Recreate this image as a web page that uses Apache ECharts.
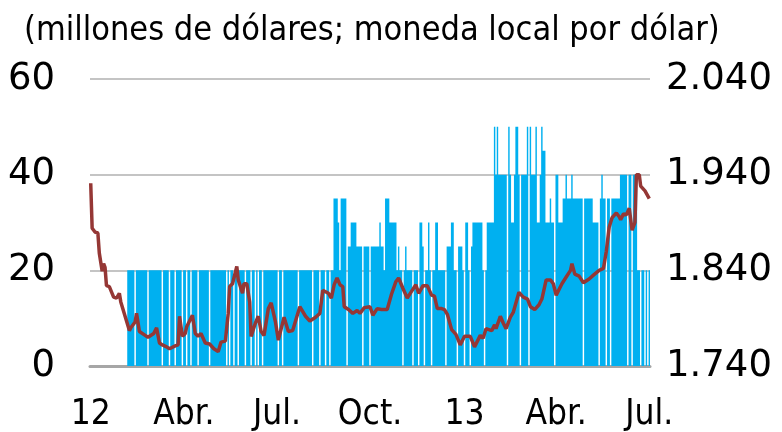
<!DOCTYPE html>
<html>
<head>
<meta charset="utf-8">
<script src="https://cdn.jsdelivr.net/npm/echarts/dist/echarts.min.js"></script>
<style>html,body{margin:0;padding:0;background:#fff}#c{width:782px;height:432px}</style>
</head>
<body>
<div id="c"></div>
<script>
// ---- Data ----
const titleText = '(millones de dólares; moneda local por dólar)';
const firstDay = '2012-01-02';
const lastDay = '2013-07-01';
const quarterNames = { '01': null, '04': 'Abr.', '07': 'Jul.', '10': 'Oct.' };

// Daily purchases (US$ millions), one value per business day from firstDay to lastDay
const purchases = [
  0,0,0,0,0,0,0,0,0,0,
  0,0,0,0,0,0,0,0,0,0,
  0,0,0,0,0,0,20,20,20,20,
  20,0,20,20,20,20,20,20,20,20,
  0,20,20,20,20,20,20,20,20,20,
  0,20,20,20,20,0,20,20,20,0,
  20,20,20,20,0,20,20,0,20,20,
  0,20,20,20,20,0,20,20,20,20,
  20,20,20,0,20,20,20,20,20,20,
  20,20,20,20,20,0,20,0,20,20,
  0,20,20,0,20,20,20,20,0,20,
  20,20,0,20,20,0,20,0,20,20,
  0,20,20,20,20,20,20,20,20,20,
  20,0,20,20,0,20,20,20,20,20,
  20,20,20,20,20,0,20,20,20,20,
  20,20,20,20,20,0,20,20,20,20,
  0,20,20,20,0,20,20,0,20,20,
  35,35,35,30,20,35,35,35,35,0,
  25,25,30,30,30,30,25,25,25,25,
  0,25,25,25,25,0,25,25,25,25,
  25,25,30,25,25,20,35,35,35,30,
  30,30,30,30,20,25,20,20,0,20,
  25,20,20,20,20,0,20,20,20,0,
  30,30,25,0,20,20,30,20,0,20,
  20,30,30,20,20,20,20,20,0,25,
  25,25,30,30,20,20,0,25,25,25,
  20,0,30,30,20,0,25,30,30,30,
  30,30,30,30,20,0,20,30,30,30,
  30,30,50,40,50,40,40,40,40,40,
  40,0,50,40,30,30,40,50,50,40,
  0,40,40,40,40,50,0,50,40,40,
  40,50,30,30,40,50,45,45,30,30,
  30,35,30,30,0,40,40,30,30,30,
  35,35,40,35,35,35,40,35,35,35,
  35,35,35,35,0,35,35,35,35,35,
  35,30,30,30,30,0,35,40,35,35,
  0,35,35,0,35,35,35,35,35,35,
  40,40,40,40,40,0,40,40,0,40,
  40,40,20,20,0,20,20,0,20,0,
  20
];

// Exchange rate readings: [business-day number, local currency per dollar]
const fxReadings = [
  [0,1931],[1,1884],[3,1880],[5,1879],[6,1858],[8,1839],[9,1847],[10,1843],[11,1824],[13,1823],
  [16,1812],[18,1811],[20,1816],[21,1807],[24,1792],[27,1777],[28,1780],[31,1786],[32,1795],[34,1776],
  [35,1775],[38,1772],[40,1770],[41,1769],[44,1774],[46,1780],[48,1764],[50,1762],[53,1760],[55,1758],
  [59,1761],[61,1762],[62,1792],[64,1771],[66,1774],[67,1781],[71,1793],[73,1774],[75,1771],[77,1774],
  [80,1764],[83,1763],[86,1758],[89,1755],[91,1765],[94,1766],[96,1795],[97,1823],[99,1826],[102,1844],
  [103,1830],[106,1816],[107,1826],[109,1826],[111,1807],[112,1771],[115,1785],[117,1792],[119,1776],[121,1772],
  [124,1800],[126,1806],[129,1786],[131,1767],[135,1791],[138,1776],[141,1777],[146,1802],[150,1792],[153,1787],
  [157,1791],[160,1795],[162,1819],[166,1816],[168,1811],[170,1825],[172,1832],[174,1825],[176,1823],[177,1802],
  [180,1799],[183,1795],[186,1798],[188,1795],[191,1801],[195,1802],[197,1793],[200,1800],[203,1799],[207,1799],
  [210,1815],[213,1828],[215,1832],[218,1821],[221,1811],[224,1818],[227,1825],[229,1816],[232,1824],[235,1824],
  [238,1814],[240,1813],[242,1800],[245,1800],[247,1799],[249,1794],[252,1778],[255,1773],[258,1762],[261,1771],
  [265,1771],[268,1760],[272,1772],[274,1769],[276,1779],[280,1777],[282,1783],[283,1779],[286,1792],[288,1785],
  [290,1779],[293,1791],[295,1796],[299,1817],[302,1812],[305,1810],[307,1802],[310,1799],[313,1804],[315,1810],
  [318,1830],[321,1830],[323,1826],[325,1814],[327,1820],[329,1826],[332,1833],[335,1840],[336,1847],[338,1836],
  [341,1834],[344,1827],[348,1831],[351,1835],[355,1840],[358,1842],[360,1860],[362,1885],[364,1895],[367,1900],
  [369,1896],[370,1893],[372,1899],[374,1898],[376,1905],[378,1882],[380,1890],[381,1940],[383,1940],[384,1928],
  [387,1923],[390,1915]
];

// ---- Build axis categories (business days) ----
const days = [];
{
  const d = new Date(firstDay + 'T00:00:00Z');
  const end = new Date(lastDay + 'T00:00:00Z');
  while (d <= end) {
    const w = d.getUTCDay();
    if (w !== 0 && w !== 6) days.push(d.toISOString().slice(0, 10));
    d.setUTCDate(d.getUTCDate() + 1);
  }
}
const quarterStart = new Set();
days.forEach((s, i) => {
  const m = s.slice(5, 7);
  if (m in quarterNames && (i === 0 || days[i - 1].slice(5, 7) !== m)) quarterStart.add(i);
});
function xLabel(v) {
  const m = v.slice(5, 7);
  return quarterNames[m] === null ? v.slice(2, 4) : quarterNames[m];
}
function fxLabel(v) {
  v = Math.round(v);
  return Math.floor(v / 1000) + '.' + String(v % 1000).padStart(3, '0');
}

const COND = '"DejaVu Sans Condensed", "DejaVu Sans", sans-serif';
const WIDE = '"DejaVu Sans", sans-serif';
const chart = echarts.init(document.getElementById('c'), null, { renderer: 'canvas' });
chart.setOption({
  animation: false,
  backgroundColor: '#ffffff',
  title: {
    text: titleText, left: 19, top: 9,
    textStyle: { fontSize: 34, fontWeight: 'normal', color: '#000', fontFamily: COND }
  },
  grid: { left: 90, right: 132, top: 79, bottom: 66 },
  xAxis: {
    type: 'category', data: days, boundaryGap: true,
    axisLine: { lineStyle: { color: '#a6a6a6', width: 3 } },
    axisTick: { interval: (i) => quarterStart.has(i), length: 8, lineStyle: { color: '#a6a6a6', width: 2 } },
    axisLabel: { interval: (i) => quarterStart.has(i), formatter: xLabel, margin: 31,
      fontSize: 35, color: '#000', fontFamily: COND }
  },
  yAxis: [
    { type: 'value', min: 0, max: 60, interval: 20, position: 'left',
      axisLine: { show: false }, axisTick: { show: false },
      splitLine: { lineStyle: { color: '#b0b0b0', width: 1.5 } },
      axisLabel: { margin: 35, fontSize: 37, color: '#000', fontFamily: WIDE } },
    { type: 'value', min: 1740, max: 2040, interval: 20, position: 'right',
      axisLine: { show: false }, axisTick: { show: false }, splitLine: { show: false },
      axisLabel: { margin: 16, fontSize: 37, color: '#000', fontFamily: WIDE,
        formatter: (v) => (Math.round(v - 1740) % 100 === 0 ? fxLabel(v) : '') } }
  ],
  series: [
    { type: 'bar', name: 'purchases', data: purchases, yAxisIndex: 0,
      large: true, largeThreshold: 100,
      barCategoryGap: '0%', barGap: '0%', itemStyle: { color: '#00b0f0' }, z: 2 },
    { type: 'line', name: 'fx', data: fxReadings.map(p => [days[p[0]], p[1]]), yAxisIndex: 1,
      showSymbol: false, symbol: 'none', lineStyle: { color: '#953735', width: 3.5 }, z: 3 }
  ]
});
</script>
</body>
</html>
